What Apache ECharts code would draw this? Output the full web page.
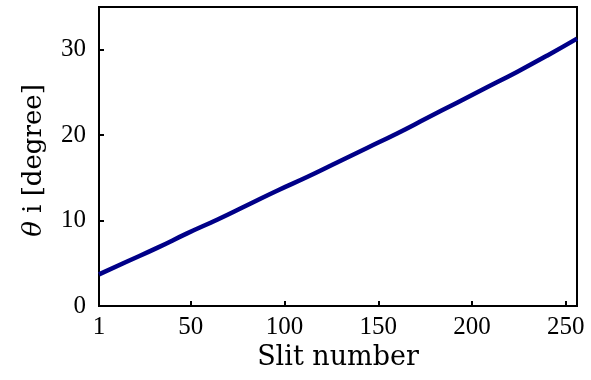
<!DOCTYPE html>
<html><head><meta charset="utf-8">
<script src="https://cdn.jsdelivr.net/npm/echarts@6/dist/echarts.min.js"></script>
<style>html,body{margin:0;padding:0;background:#fff}#c{width:591px;height:380px}</style>
</head><body><div id="c"></div>
<script>
const slits = [1, 16, 32, 48, 64, 80, 96, 112, 128, 144, 160, 176, 192, 208, 224, 240, 256];
const thetaI = [3.7, 5.2, 6.8, 8.5, 10.1, 11.8, 13.5, 15.1, 16.8, 18.5, 20.2, 22.0, 23.8, 25.6, 27.4, 29.3, 31.3];
const xTicks = [1, 50, 100, 150, 200, 250];
const yTicks = [0, 10, 20, 30];

const nameFont = '"DejaVu Serif", serif';
const tickFont = '"Liberation Serif", "DejaVu Serif", serif';
const chart = echarts.init(document.getElementById('c'), null, {renderer: 'canvas'});
chart.setOption({
  animation: false,
  grid: {left: 99, right: 14, top: 7, bottom: 74, show: true, borderColor: '#000', borderWidth: 2, backgroundColor: 'transparent'},
  xAxis: {
    type: 'value', min: 1, max: 256,
    name: 'Slit number', nameLocation: 'middle', nameGap: 38,
    nameTextStyle: {fontFamily: nameFont, fontSize: 27, color: '#000'},
    axisLine: {lineStyle: {color: '#000', width: 2}},
    axisTick: {inside: true, length: 5, lineStyle: {color: '#000', width: 2}, customValues: xTicks},
    axisLabel: {fontFamily: tickFont, fontSize: 25, color: '#000', margin: 9, customValues: xTicks},
    splitLine: {show: false}
  },
  yAxis: {
    type: 'value', min: 0, max: 35,
    name: '{t|θ} i [degree]', nameLocation: 'middle', nameGap: 52, nameRotate: 90,
    nameTextStyle: {fontFamily: nameFont, fontSize: 26, color: '#000', padding: [0, 8, 0, 0],
      rich: {t: {fontFamily: nameFont, fontStyle: 'italic', fontSize: 26, color: '#000'}}},
    axisLine: {lineStyle: {color: '#000', width: 2}},
    axisTick: {inside: true, length: 5, lineStyle: {color: '#000', width: 2}, customValues: yTicks},
    axisLabel: {fontFamily: tickFont, fontSize: 25, color: '#000', margin: 13, customValues: yTicks},
    splitLine: {show: false}
  },
  series: [{
    type: 'line', data: slits.map((s, i) => [s, thetaI[i]]),
    showSymbol: false, smooth: true,
    lineStyle: {color: '#000088', width: 4.5}
  }]
});
</script></body></html>
